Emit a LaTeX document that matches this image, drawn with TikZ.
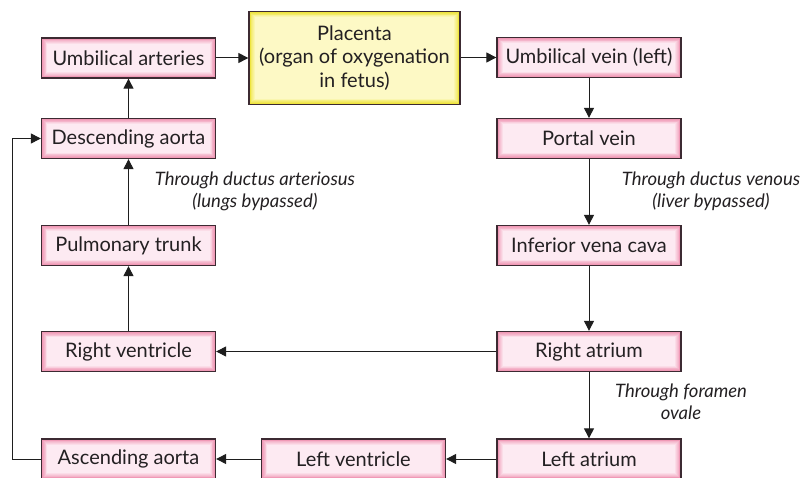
\documentclass[tikz,border=0pt]{standalone}
\usepackage{fontspec}
\setmainfont{Lato}
\usetikzlibrary{arrows.meta}
\definecolor{pinkout}{RGB}{238,140,172}
\definecolor{pinkin}{RGB}{253,236,243}
\definecolor{yelout}{RGB}{236,224,40}
\definecolor{yelin}{RGB}{253,250,200}
\definecolor{edgecol}{RGB}{60,42,50}
\definecolor{txt}{RGB}{35,32,34}
\definecolor{linecol}{RGB}{30,30,30}
\tikzset{
  glow/.style n args={2}{
    path picture={
      \foreach \k in {1,...,7}{
        \pgfmathtruncatemacro{\pct}{\k*14}
        \fill[color=#2!\pct!#1]
          ([shift={(\k*0.8pt,\k*0.8pt)}]path picture bounding box.south west)
          rectangle
          ([shift={(-\k*0.8pt,-\k*0.8pt)}]path picture bounding box.north east);
      }
    }},
  pinkbox/.style={draw=edgecol, line width=1.3pt, fill=pinkout,
    glow={pinkout}{pinkin},
    minimum width=174pt, minimum height=40pt, inner sep=0pt,
    font=\fontsize{20}{23}\selectfont, text=txt},
  yelbox/.style={draw=edgecol, line width=1.3pt, fill=yelout,
    glow={yelout}{yelin},
    minimum width=211pt, minimum height=93pt, inner sep=0pt, align=center,
    font=\fontsize{20}{23.5}\selectfont, text=txt},
  note/.style={font=\itshape\fontsize{18.5}{22}\selectfont, text=txt, align=center},
  conn/.style={draw=linecol, line width=1pt, -{Triangle[length=10pt,width=10pt]}},
}
\begin{document}
\begin{tikzpicture}[x=1pt,y=-1pt]
\useasboundingbox (0,0) rectangle (800,478);
% left column
\node[pinkbox] (ua) at (128.5,58) {Umbilical arteries};
\node[pinkbox] (da) at (128.5,138.5) {Descending aorta};
\node[pinkbox] (pt) at (128.5,245.5) {Pulmonary trunk};
\node[pinkbox] (rv) at (128.5,351.5) {Right ventricle};
\node[pinkbox] (aa) at (128.5,459) {Ascending aorta};
% middle
\node[yelbox] (pl) at (354.5,58) {Placenta\\(organ of oxygenation\\in fetus)};
\node[pinkbox, minimum width=184pt] (lv) at (353.5,459) {Left ventricle};
% right column
\node[pinkbox, minimum width=184pt] (uv) at (589,57.5) {Umbilical vein (left)};
\node[pinkbox, minimum width=184pt] (pv) at (589,138.5) {Portal vein};
\node[pinkbox, minimum width=184pt] (ivc) at (589,245.5) {Inferior vena cava};
\node[pinkbox, minimum width=184pt] (ra) at (589,351.5) {Right atrium};
\node[pinkbox, minimum width=184pt] (la) at (589,459) {Left atrium};
% notes
\node[note] (n1) at (255,191) {Through ductus arteriosus\\(lungs bypassed)};
\node[note] (n2) at (711,191) {Through ductus venous\\(liver bypassed)};
\node[note] (n3) at (681,402) {Through foramen\\ovale};
% connectors
\draw[conn] (ua.east) -- (pl.west |- ua.east);
\draw[conn] (pl.east |- uv.west) -- (uv.west);
\draw[conn] (uv) -- (pv);
\draw[conn] (pv) -- (ivc);
\draw[conn] (ivc) -- (ra);
\draw[conn] (ra) -- (la);
\draw[conn] (la) -- (lv);
\draw[conn] (lv) -- (aa);
\draw[conn] (ra) -- (rv);
\draw[conn] (rv) -- (pt);
\draw[conn] (pt) -- (da);
\draw[conn] (da) -- (ua);
\coordinate (c1) at (12,459);
\coordinate (c2) at (12,138.5);
\draw[conn] (aa.west) -- (c1) -- (c2) -- (da.west);
\end{tikzpicture}
\end{document}
